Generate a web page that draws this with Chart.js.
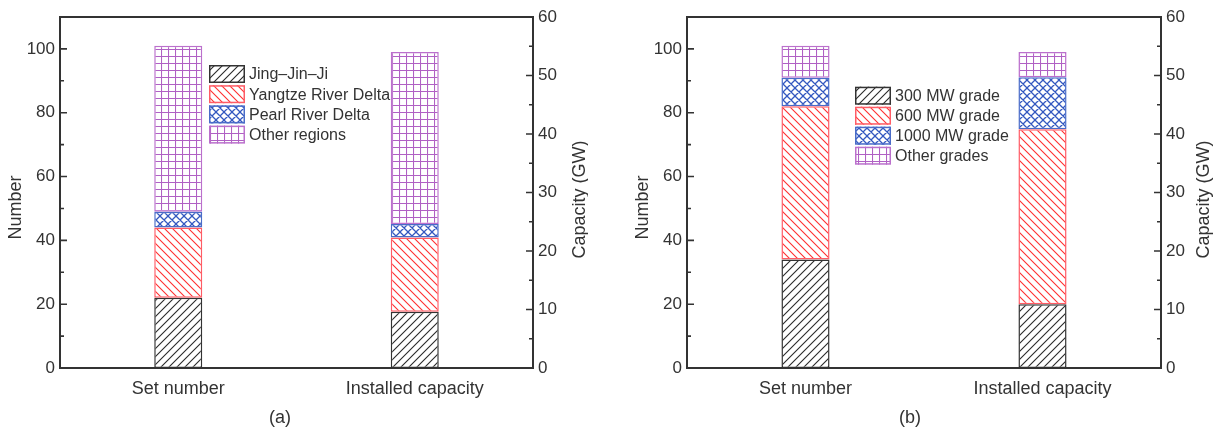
<!DOCTYPE html>
<html><head><meta charset="utf-8">
<script src="https://cdn.jsdelivr.net/npm/chart.js@4"></script>
<style>
html,body{margin:0;padding:0;background:#fff;overflow:hidden;width:1216px;height:429px;}
canvas{position:absolute;top:0;}
#ca{left:0}
#cb{left:627px}
.sub{position:absolute;top:406px;font:18px "Liberation Sans",Arial,sans-serif;color:#333;line-height:22px;width:60px;text-align:center}
</style></head><body>
<canvas id="ca" width="588" height="429"></canvas>
<canvas id="cb" width="589" height="429"></canvas>
<div class="sub" style="left:250px">(a)</div>
<div class="sub" style="left:880px">(b)</div>
<script>
// ---- data ----
const categories = ['Set number', 'Installed capacity'];
const regionLabels = ['Jing\u2013Jin\u2013Ji', 'Yangtze River Delta', 'Pearl River Delta', 'Other regions'];
const regionSetNumber = [22, 22, 5, 52];
const regionCapacityGW = [9.6, 12.7, 2.3, 29.4];
const gradeLabels = ['300 MW grade', '600 MW grade', '1000 MW grade', 'Other grades'];
const gradeSetNumber = [34, 48, 9, 10];
const gradeCapacityGW = [10.9, 29.9, 8.9, 4.3];
const numberTickLabels = [0, 20, 40, 60, 80, 100];
const capacityTickLabels = [0, 10, 20, 30, 40, 50, 60];
const leftTitle = 'Number';
const rightTitle = 'Capacity (GW)';

// ---- styles ----
const FONT = '"Liberation Sans", Arial, sans-serif';
const TXT = '#333';
const kinds = ['fwd', 'back', 'cross', 'grid'];
const lineColors = ['#2a2a2a', '#ff3030', '#3358c0', '#b060c4'];
const borderColors = ['#333333', '#ff5c66', '#4a6cc8', '#bb70cc'];

function makePattern(ctx, kind, color) {
  const s = kind === 'grid' ? 7 : 8;
  const c = document.createElement('canvas');
  c.width = s; c.height = s;
  const g = c.getContext('2d');
  g.fillStyle = '#fff'; g.fillRect(0, 0, s, s);
  g.strokeStyle = color;
  g.lineWidth = kind === 'cross' ? 1.3 : 1.1;
  g.beginPath();
  if (kind === 'fwd' || kind === 'cross') {
    g.moveTo(-1, s + 1); g.lineTo(s + 1, -1);
    g.moveTo(-1, 1); g.lineTo(1, -1);
    g.moveTo(s - 1, s + 1); g.lineTo(s + 1, s - 1);
  }
  if (kind === 'back' || kind === 'cross') {
    g.moveTo(-1, -1); g.lineTo(s + 1, s + 1);
    g.moveTo(s - 1, -1); g.lineTo(s + 1, 1);
    g.moveTo(-1, s - 1); g.lineTo(1, s + 1);
  }
  if (kind === 'grid') {
    g.moveTo(0.5, 0); g.lineTo(0.5, s);
    g.moveTo(0, 0.5); g.lineTo(s, 0.5);
  }
  g.stroke();
  return ctx.createPattern(c, 'repeat');
}

function makePlugin(cfg) {
  return {
    id: 'frame',
    afterDatasetsDraw(chart) {
      const ctx = chart.ctx, a = chart.chartArea;
      const ys = chart.scales.y, y1 = chart.scales.y1;
      ctx.save();
      ctx.strokeStyle = '#333';
      ctx.lineWidth = 1.6;
      ctx.beginPath();
      ys.ticks.forEach(t => {
        const p = ys.getPixelForValue(t.value);
        const L = numberTickLabels.includes(t.value) ? 7 : 4;
        ctx.moveTo(a.left, p); ctx.lineTo(a.left + L, p);
      });
      y1.ticks.forEach(t => {
        const p = y1.getPixelForValue(t.value);
        const L = capacityTickLabels.includes(t.value) ? 7 : 4;
        ctx.moveTo(a.right, p); ctx.lineTo(a.right - L, p);
      });
      ctx.stroke();
      ctx.lineWidth = 2;
      ctx.strokeRect(a.left, a.top, a.right - a.left, a.bottom - a.top);

      // axis titles (both read bottom-to-top)
      ctx.fillStyle = TXT;
      ctx.font = '18px ' + FONT;
      ctx.textAlign = 'center';
      ctx.textBaseline = 'middle';
      const cy = (a.top + a.bottom) / 2;
      ctx.save();
      ctx.translate(a.left - 44, cy + 15);
      ctx.rotate(-Math.PI / 2);
      ctx.fillText(leftTitle, 0, 0);
      ctx.restore();
      ctx.save();
      ctx.translate(a.right + cfg.rightTitleOffset, cy + 7);
      ctx.rotate(-Math.PI / 2);
      ctx.fillText(rightTitle, 0, 0);
      ctx.restore();

      // legend
      ctx.font = '16px ' + FONT;
      ctx.textAlign = 'left';
      const bw = 36, bh = 18;
      cfg.legendLabels.forEach((lab, i) => {
        const ds = chart.data.datasets[i];
        const x = a.left + cfg.legendX, y = a.top + cfg.legendY + i * cfg.legendPitch;
        ctx.fillStyle = ds.backgroundColor;
        ctx.fillRect(x, y, bw, bh);
        ctx.strokeStyle = ds.borderColor;
        ctx.lineWidth = 1.5;
        ctx.strokeRect(x + 0.75, y + 0.75, bw - 1.5, bh - 1.5);
        ctx.fillStyle = TXT;
        ctx.fillText(lab, x + bw + 4, y + bh / 2 + 1);
      });
      ctx.restore();
    }
  };
}

function build(id, labels, setVals, capVals, cfg) {
  const canvas = document.getElementById(id);
  const ctx = canvas.getContext('2d');
  const pats = kinds.map((k, i) => makePattern(ctx, k, lineColors[i]));
  const common = (i) => ({
    stack: 'a',
    backgroundColor: pats[i],
    borderColor: borderColors[i],
    borderWidth: 1.5,
    borderSkipped: false,
    categoryPercentage: 1,
    barPercentage: 0.203
  });
  const datasets = [];
  labels.forEach((lab, i) => datasets.push(Object.assign({ label: lab, data: [setVals[i], null], yAxisID: 'y' }, common(i))));
  labels.forEach((lab, i) => datasets.push(Object.assign({ label: lab, data: [null, capVals[i]], yAxisID: 'y1' }, common(i))));

  return new Chart(ctx, {
    type: 'bar',
    data: { labels: categories, datasets },
    options: {
      responsive: false,
      animation: false,
      layout: { padding: { top: 17, left: 0, right: 0, bottom: 0 } },
      plugins: { legend: { display: false }, tooltip: { enabled: false } },
      scales: {
        x: {
          stacked: true,
          grid: { display: false, drawTicks: false },
          border: { display: false },
          ticks: { padding: 10, color: TXT, font: { size: 18, family: FONT } },
          afterFit(s) { s.height = 61; }
        },
        y: {
          stacked: true, position: 'left', min: 0, max: 110,
          grid: { display: false, drawTicks: false },
          border: { display: false },
          ticks: {
            stepSize: 10, autoSkip: false, padding: 5, color: TXT,
            font: { size: 17, family: FONT },
            callback: v => numberTickLabels.includes(v) ? String(v) : ''
          },
          afterFit(s) { s.width = 60; }
        },
        y1: {
          stacked: true, position: 'right', min: 0, max: 60,
          grid: { display: false, drawTicks: false },
          border: { display: false },
          ticks: {
            stepSize: 5, autoSkip: false, padding: 5, color: TXT,
            font: { size: 17, family: FONT },
            callback: v => capacityTickLabels.includes(v) ? String(v) : ''
          },
          afterFit(s) { s.width = cfg.rightWidth; }
        }
      }
    },
    plugins: [makePlugin(Object.assign({ legendLabels: labels }, cfg))]
  });
}

build('ca', regionLabels, regionSetNumber, regionCapacityGW,
  { rightWidth: 55, rightTitleOffset: 46.6, legendX: 149, legendY: 48, legendPitch: 20.2 });
build('cb', gradeLabels, gradeSetNumber, gradeCapacityGW,
  { rightWidth: 55, rightTitleOffset: 43, legendX: 168, legendY: 69.7, legendPitch: 20 });
</script>
</body></html>
